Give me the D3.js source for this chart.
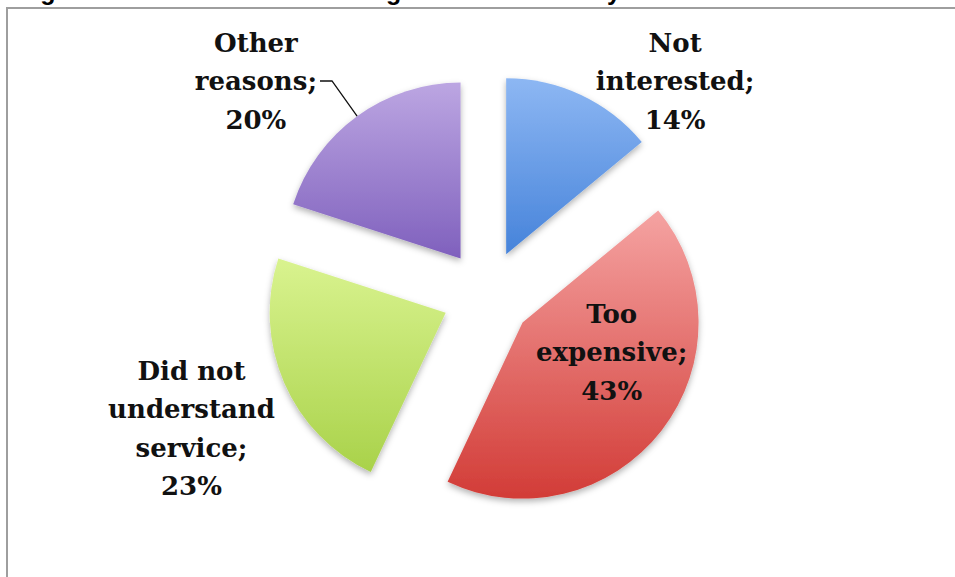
<!DOCTYPE html>
<html>
<head>
<meta charset="utf-8">
<script src="https://cdn.jsdelivr.net/npm/d3@7"></script>
<style>
  body { margin: 0; background: #fff; }
  svg { display: block; }
</style>
</head>
<body>
<div id="chart"></div>
<script>
// 1. data
const categories = ["Not interested", "Too expensive", "Did not understand service", "Other reasons"]
const shares = [14, 43, 23, 20]
const labelLines = [
  ["Not", "interested;"],
  ["Too", "expensive;"],
  ["Did not", "understand", "service;"],
  ["Other", "reasons;"]
]
const titleText = "Figure 3: Reasons for not taking the mobile money service"

// styles
const sliceColors = {
  "Not interested": ["#8db7f3", "#4683da"],
  "Too expensive": ["#f5a3a2", "#d23c37"],
  "Did not understand service": ["#d9f38f", "#a9d24a"],
  "Other reasons": ["#bca6e2", "#7f60bd"]
}
// label block placement: angle (deg, clockwise from 12 o'clock) and distance from pie centre
const labelPlacement = {
  "Not interested": { angle: 41.3, r: 285 },
  "Too expensive": { angle: 114.5, r: 137 },
  "Did not understand service": { angle: 245.8, r: 324 },
  "Other reasons": { angle: 312.8, r: 315 }
}

// 2. dimensions
let dimensions = {
  width: 955,
  height: 577,
  cx: 487,
  cy: 295,
  radius: 176,
  explode: 45,
  lineHeight: 38.5,
}

// 3. canvas
const wrapper = d3.select("#chart")
  .append("svg")
    .attr("width", dimensions.width)
    .attr("height", dimensions.height)

const defs = wrapper.append("defs")

const shadow = defs.append("filter")
    .attr("id", "shadow")
    .attr("x", "-20%").attr("y", "-20%")
    .attr("width", "140%").attr("height", "140%")
shadow.append("feDropShadow")
    .attr("dx", 0).attr("dy", 3)
    .attr("stdDeviation", 3)
    .attr("flood-color", "#000")
    .attr("flood-opacity", 0.3)

categories.forEach((c, i) => {
  const g = defs.append("linearGradient")
      .attr("id", "grad" + i)
      .attr("x1", 0).attr("y1", 0)
      .attr("x2", 0).attr("y2", 1)
  g.append("stop").attr("offset", "0%").attr("stop-color", sliceColors[c][0])
  g.append("stop").attr("offset", "100%").attr("stop-color", sliceColors[c][1])
})

// title (cut off at the top of the picture) and frame
wrapper.append("text")
    .attr("x", 18)
    .attr("y", 0)
    .attr("font-family", "Liberation Sans, Arial, sans-serif")
    .attr("font-weight", "bold")
    .attr("font-size", 25)
    .attr("fill", "#000")
    .text(titleText)

wrapper.append("path")
    .attr("d", `M7,${dimensions.height} V8 H${dimensions.width}`)
    .attr("fill", "none")
    .attr("stroke", "#9e9e9e")
    .attr("stroke-width", 2)

const bounds = wrapper.append("g")
    .attr("transform", `translate(${dimensions.cx},${dimensions.cy})`)

// 4. pie + arc
const pie = d3.pie()
    .sort(null)
    .value(d => d.value)

const slices = pie(categories.map((c, i) => ({ name: c, value: shares[i], lines: labelLines[i] })))

const arc = d3.arc()
    .innerRadius(0)
    .outerRadius(dimensions.radius)

const mid = d => (d.startAngle + d.endAngle) / 2
const offset = d => [Math.sin(mid(d)) * dimensions.explode, -Math.cos(mid(d)) * dimensions.explode]

// 5. draw slices
bounds.selectAll("path.slice")
    .data(slices)
    .enter()
    .append("path")
      .attr("class", "slice")
      .attr("d", arc)
      .attr("transform", d => `translate(${offset(d)})`)
      .attr("fill", (d, i) => `url(#grad${i})`)
      .attr("filter", "url(#shadow)")

// 6. labels
const labelFont = "DejaVu Serif, Cambria, serif"

slices.forEach((d, i) => {
  const p = labelPlacement[d.data.name]
  const a = p.angle * Math.PI / 180
  const lx = Math.sin(a) * p.r
  const ly = -Math.cos(a) * p.r
  const lines = d.data.lines.concat([d.data.value + "%"])
  const n = lines.length

  const label = bounds.append("text")
      .attr("font-family", labelFont)
      .attr("font-weight", "bold")
      .attr("font-size", 26)
      .attr("fill", "#111")
      .attr("text-anchor", "middle")

  const spans = label.selectAll("tspan")
      .data(lines)
      .enter()
      .append("tspan")
        .attr("x", lx)
        .attr("y", (t, j) => ly + (j - (n - 1) / 2) * dimensions.lineHeight + 9.5)
        .text(t => t)

  // leader line for the "Other reasons" label
  if (d.data.name === "Other reasons") {
    const node = spans.nodes()[1]
    const w = node.getComputedTextLength()
    const y0 = ly + (1 - (n - 1) / 2) * dimensions.lineHeight
    const x0 = lx + w / 2 + 3
    const [ox, oy] = offset(d)
    const ex = Math.sin(mid(d)) * dimensions.radius + ox
    const ey = -Math.cos(mid(d)) * dimensions.radius + oy
    bounds.append("path")
        .attr("d", `M${x0},${y0} H${x0 + 12} L${ex},${ey}`)
        .attr("fill", "none")
        .attr("stroke", "#111")
        .attr("stroke-width", 1.3)
  }
})
</script>
</body>
</html>
